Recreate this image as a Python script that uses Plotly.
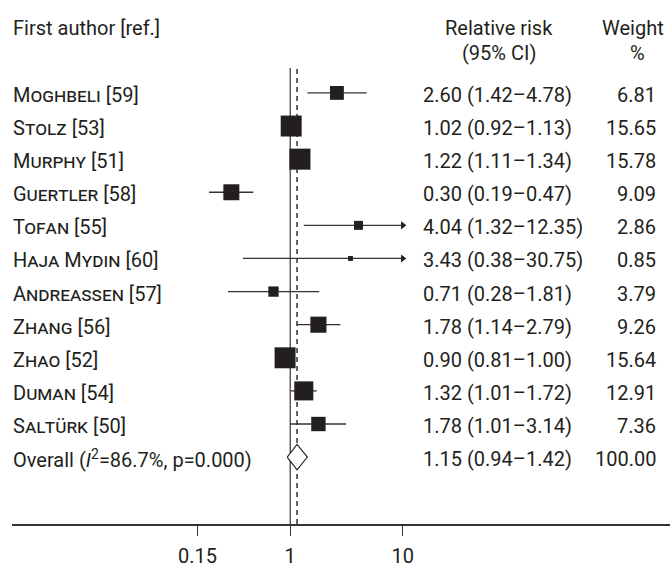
import math
import plotly.graph_objects as go

# ---------------- data ----------------
authors = ["Moghbeli", "Stolz", "Murphy", "Guertler", "Tofan", "Haja Mydin",
           "Andreassen", "Zhang", "Zhao", "Duman", "Saltürk"]
refs = [59, 53, 51, 58, 55, 60, 57, 56, 52, 54, 50]
rr = [2.60, 1.02, 1.22, 0.30, 4.04, 3.43, 0.71, 1.78, 0.90, 1.32, 1.78]
ci_lo = [1.42, 0.92, 1.11, 0.19, 1.32, 0.38, 0.28, 1.14, 0.81, 1.01, 1.01]
ci_hi = [4.78, 1.13, 1.34, 0.47, 12.35, 30.75, 1.81, 2.79, 1.00, 1.72, 3.14]
weights = [6.81, 15.65, 15.78, 9.09, 2.86, 0.85, 3.79, 9.26, 15.64, 12.91, 7.36]

overall_rr = 1.15
overall_lo = 0.94
overall_hi = 1.42
overall_weight = 100.00
overall_label = "Overall (<i>I</i><sup>2</sup>=86.7%, p=0.000)"

tick_vals = [0.15, 1, 10]
tick_text = ["0.15", "1", "10"]
null_value = 1
ci_clip = 10.0

# ---------------- style ----------------
W, H = 670, 568
ML, MR, MT, MB = 12, 0, 68, 36
INK = "#231f20"
LINE = "#333333"
FONT = "Roboto"
FS = 20
x_range = [-2.471, 3.373]
n = len(authors)
overall_row = n
y_range = [13.02, -0.753]

fig = go.Figure()

# reference lines (null & overall estimate)
fig.add_trace(go.Scatter(x=[null_value, null_value], y=y_range, mode="lines",
                         line=dict(color=LINE, width=1.2), hoverinfo="skip", showlegend=False))
fig.add_trace(go.Scatter(x=[overall_rr, overall_rr], y=y_range, mode="lines",
                         line=dict(color=INK, width=1.4, dash="5px,4px"), hoverinfo="skip", showlegend=False))

# CI lines
lx, ly = [], []
ax_, ay_ = [], []
for i in range(n):
    hi = min(ci_hi[i], ci_clip)
    lx += [ci_lo[i], hi, None]
    ly += [i, i, None]
    if ci_hi[i] > ci_clip:
        ax_.append(ci_clip)
        ay_.append(i)
fig.add_trace(go.Scatter(x=lx, y=ly, mode="lines", line=dict(color=LINE, width=1.3),
                         hoverinfo="skip", showlegend=False))
fig.add_trace(go.Scatter(x=ax_, y=ay_, mode="markers",
                         marker=dict(symbol="triangle-right", size=7, color=INK, opacity=1),
                         hoverinfo="skip", showlegend=False))

# squares
fig.add_trace(go.Scatter(x=rr, y=list(range(n)), mode="markers",
                         marker=dict(symbol="square", color=INK, opacity=1,
                                     size=[5.3 * math.sqrt(w) for w in weights],
                                     line=dict(width=0)),
                         showlegend=False))

# diamond
dh = 0.385
fig.add_trace(go.Scatter(x=[overall_lo, overall_rr, overall_hi, overall_rr, overall_lo],
                         y=[overall_row, overall_row - dh, overall_row, overall_row + dh, overall_row],
                         mode="lines", fill="toself", fillcolor="white",
                         line=dict(color=INK, width=1.1), showlegend=False))

# ---------------- text ----------------
def px2paper_x(px):
    return (px - ML) / (W - ML - MR)

def px2paper_y(py):
    return (H - MB - py) / (H - MT - MB)

ann = []
base_font = dict(family=FONT, size=FS, color=INK)
x_name = px2paper_x(11)
x_rr = px2paper_x(421)
x_w = px2paper_x(658)

for i in range(n):
    ann.append(dict(x=x_name, y=i, xref="paper", yref="y", xanchor="left", yanchor="middle",
                    text=f"{authors[i]} [{refs[i]}]", showarrow=False, yshift=-2,
                    font=dict(base_font, variant="small-caps")))
    ann.append(dict(x=x_rr, y=i, xref="paper", yref="y", xanchor="left", yanchor="middle",
                    text=f"{rr[i]:.2f} ({ci_lo[i]:.2f}–{ci_hi[i]:.2f})", showarrow=False, yshift=-2,
                    font=base_font))
    ann.append(dict(x=x_w, y=i, xref="paper", yref="y", xanchor="right", yanchor="middle",
                    text=f"{weights[i]:.2f}", showarrow=False, yshift=-2, font=base_font))

ann.append(dict(x=x_name, y=overall_row, xref="paper", yref="y", xanchor="left", yanchor="middle",
                text=overall_label, showarrow=False, yshift=-2, font=base_font))
ann.append(dict(x=x_rr, y=overall_row, xref="paper", yref="y", xanchor="left", yanchor="middle",
                text=f"{overall_rr:.2f} ({overall_lo:.2f}–{overall_hi:.2f})", showarrow=False, yshift=-2,
                font=base_font))
ann.append(dict(x=x_w, y=overall_row, xref="paper", yref="y", xanchor="right", yanchor="middle",
                text=f"{overall_weight:.2f}", showarrow=False, yshift=-2, font=base_font))

# headers
ann.append(dict(x=x_name, y=px2paper_y(27), xref="paper", yref="paper", xanchor="left", yanchor="middle",
                text="First author [ref.]", showarrow=False, font=base_font))
ann.append(dict(x=px2paper_x(499), y=px2paper_y(27), xref="paper", yref="paper", xanchor="center",
                yanchor="middle", text="Relative risk", showarrow=False, font=base_font))
ann.append(dict(x=px2paper_x(499), y=px2paper_y(53), xref="paper", yref="paper", xanchor="center",
                yanchor="middle", text="(95% CI)", showarrow=False, font=base_font))
ann.append(dict(x=px2paper_x(633), y=px2paper_y(27), xref="paper", yref="paper", xanchor="center",
                yanchor="middle", text="Weight", showarrow=False, font=base_font))
ann.append(dict(x=px2paper_x(637), y=px2paper_y(53), xref="paper", yref="paper", xanchor="center",
                yanchor="middle", text="%", showarrow=False, font=base_font))

fig.update_layout(
    width=W, height=H,
    margin=dict(l=ML, r=MR, t=MT, b=MB),
    paper_bgcolor="white", plot_bgcolor="white",
    annotations=ann,
    showlegend=False,
    font=dict(family=FONT, size=FS, color=INK),
    xaxis=dict(type="log", range=x_range, tickvals=tick_vals, ticktext=tick_text,
               showgrid=False, zeroline=False, showline=True, linecolor=LINE, linewidth=1.5,
               ticks="outside", ticklen=10, tickwidth=1.2, tickcolor=LINE, ticklabelstandoff=3,
               tickfont=dict(family=FONT, size=FS, color=INK), fixedrange=True),
    yaxis=dict(range=y_range, visible=False, fixedrange=True),
)

fig.write_html("out.html", config={"displayModeBar": False},
               post_script="document.body.style.margin='0';document.body.style.padding='0';")
